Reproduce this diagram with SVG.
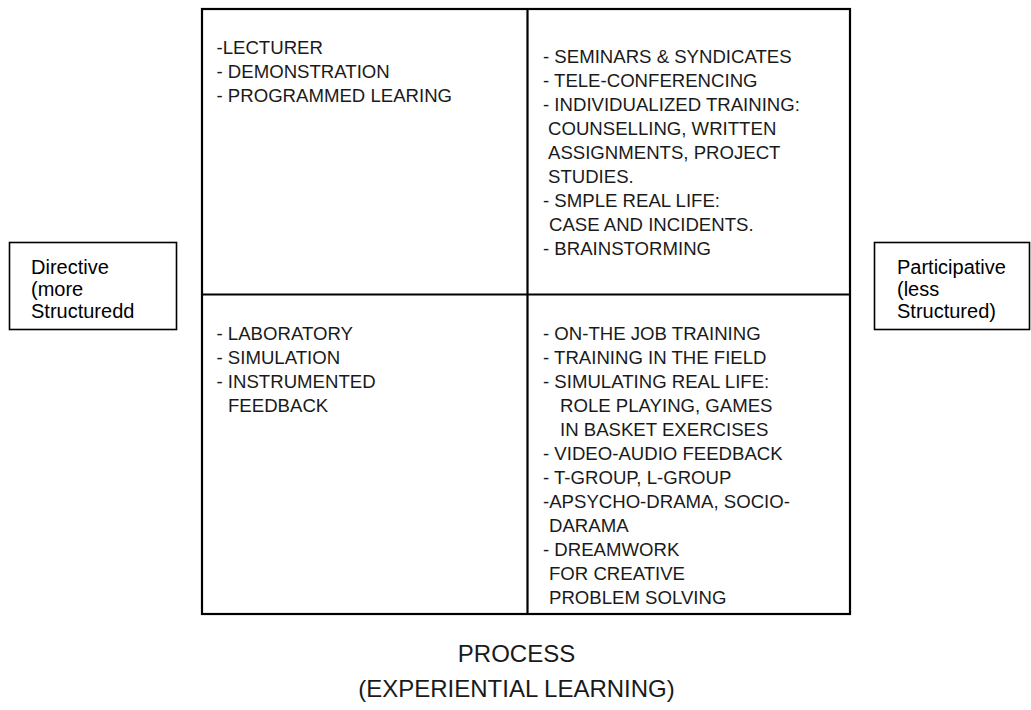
<svg xmlns="http://www.w3.org/2000/svg" width="1031" height="710" viewBox="0 0 1031 710">
<style>
.cell{font-family:"Liberation Sans",Arial,sans-serif;font-size:18.6px;fill:#1a1a1a}
.side{font-family:"Liberation Sans",Arial,sans-serif;font-size:20px;fill:#000}
.cap{font-family:"Liberation Sans",Arial,sans-serif;font-size:24px;fill:#1a1a1a;text-anchor:middle}
.grid{fill:none;stroke:#000;stroke-width:2.2}
.box{fill:#fff;stroke:#000;stroke-width:1.6}
</style>
<rect width="1031" height="710" fill="#fff"/>
<g id="grid">
<rect class="grid" x="202" y="9" width="648" height="605"/>
<line class="grid" x1="527.5" y1="9" x2="527.5" y2="614"/>
<line class="grid" x1="202" y1="294.5" x2="850" y2="294.5"/>
</g>
<g id="cell-top-left" class="cell">
<text x="216.5" y="54">-LECTURER</text>
<text x="216.5" y="78">- DEMONSTRATION</text>
<text x="216.5" y="102">- PROGRAMMED LEARING</text>
</g>
<g id="cell-top-right" class="cell">
<text x="543" y="63">- SEMINARS &amp; SYNDICATES</text>
<text x="543" y="87">- TELE-CONFERENCING</text>
<text x="543" y="111">- INDIVIDUALIZED TRAINING:</text>
<text x="548" y="135">COUNSELLING, WRITTEN</text>
<text x="548" y="159">ASSIGNMENTS, PROJECT</text>
<text x="548" y="183">STUDIES.</text>
<text x="543" y="207">- SMPLE REAL LIFE:</text>
<text x="549" y="231">CASE AND INCIDENTS.</text>
<text x="543" y="255">- BRAINSTORMING</text>
</g>
<g id="cell-bottom-left" class="cell">
<text x="216.5" y="340">- LABORATORY</text>
<text x="216.5" y="364">- SIMULATION</text>
<text x="216.5" y="388">- INSTRUMENTED</text>
<text x="228" y="412">FEEDBACK</text>
</g>
<g id="cell-bottom-right" class="cell">
<text x="543" y="340">- ON-THE JOB TRAINING</text>
<text x="543" y="364">- TRAINING IN THE FIELD</text>
<text x="543" y="388">- SIMULATING REAL LIFE:</text>
<text x="560" y="412">ROLE PLAYING, GAMES</text>
<text x="560" y="436">IN BASKET EXERCISES</text>
<text x="543" y="460">- VIDEO-AUDIO FEEDBACK</text>
<text x="543" y="484">- T-GROUP, L-GROUP</text>
<text x="543" y="508">-APSYCHO-DRAMA, SOCIO-</text>
<text x="549" y="532">DARAMA</text>
<text x="543" y="556">- DREAMWORK</text>
<text x="549" y="580">FOR CREATIVE</text>
<text x="549" y="604">PROBLEM SOLVING</text>
</g>
<g id="node-directive">
<rect class="box" x="9.5" y="242.5" width="167" height="87"/>
<text class="side" x="31" y="274">Directive</text>
<text class="side" x="31" y="296">(more</text>
<text class="side" x="31" y="318">Structuredd</text>
</g>
<g id="node-participative">
<rect class="box" x="874.5" y="242.5" width="155" height="87"/>
<text class="side" x="897" y="274">Participative</text>
<text class="side" x="897" y="296">(less</text>
<text class="side" x="897" y="318">Structured)</text>
</g>
<g id="caption">
<text class="cap" x="516.5" y="662">PROCESS</text>
<text class="cap" x="516.5" y="697">(EXPERIENTIAL LEARNING)</text>
</g>
<g id="connectors"/>
</svg>
